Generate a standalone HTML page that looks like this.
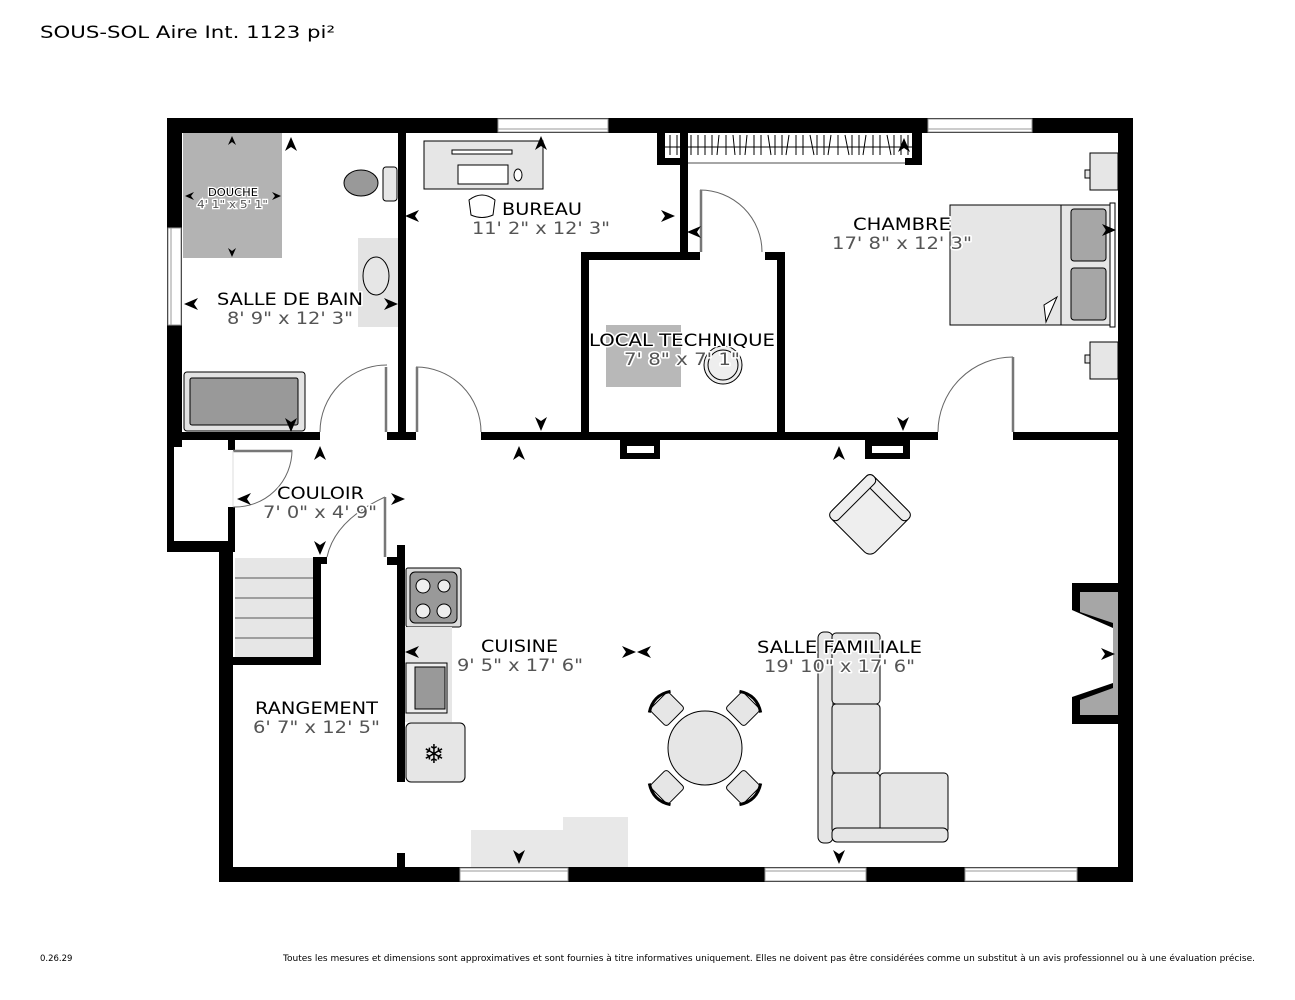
<!DOCTYPE html>
<html><head><meta charset="utf-8"><style>
html,body{margin:0;padding:0;background:#fff;}
svg{display:block;}
text{font-family:"DejaVu Sans","Liberation Sans",sans-serif;}
</style></head><body>
<svg width="1295" height="1000" viewBox="0 0 1295 1000" xmlns="http://www.w3.org/2000/svg">
<defs>
<polygon id="ar" points="0,-8 6,6 0,2 -6,6" fill="#000"/>
<polygon id="ars" points="0,-5 4,4 0,1 -4,4" fill="#000"/>
</defs>
<rect width="1295" height="1000" fill="#fff"/>
<text x="40" y="38" font-size="17" textLength="295" lengthAdjust="spacingAndGlyphs">SOUS-SOL Aire Int. 1123 pi²</text>

<rect x="183" y="133" width="99" height="125" fill="#b3b3b3"/>
<ellipse cx="361" cy="183" rx="17" ry="13" fill="#999" stroke="#000" stroke-width="1"/>
<rect x="383" y="167" width="14" height="34" rx="3" fill="#e6e6e6" stroke="#000" stroke-width="1"/>
<rect x="358" y="238" width="40" height="89" fill="#e3e3e3"/>
<ellipse cx="376" cy="276" rx="13" ry="19" fill="#e6e6e6" stroke="#000" stroke-width="1"/>
<rect x="184" y="372" width="121" height="59" rx="3" fill="#e3e3e3" stroke="#000" stroke-width="1"/>
<rect x="190" y="378" width="108" height="47" rx="2" fill="#999" stroke="#000" stroke-width="1"/>
<rect x="424" y="141" width="119" height="48" fill="#e6e6e6" stroke="#000" stroke-width="1"/>
<rect x="452" y="150" width="60" height="4" fill="#fff" stroke="#000" stroke-width="1"/>
<rect x="458" y="165" width="50" height="19" fill="#fff" stroke="#000" stroke-width="1"/>
<ellipse cx="518" cy="175" rx="4" ry="6" fill="#fff" stroke="#000" stroke-width="1"/>
<path d="M469 200 Q482 190 495 200 L493 215 Q482 220 471 215 Z" fill="#fff" stroke="#000" stroke-width="1"/>

<rect x="657" y="118" width="265" height="47" fill="#000"/>
<rect x="665" y="133" width="247" height="25" fill="#fff"/>
<rect x="688" y="158" width="217" height="7" fill="#fff"/>
<line x1="688" y1="163" x2="905" y2="163" stroke="#888" stroke-width="1.5"/>
<line x1="665" y1="147" x2="912" y2="147" stroke="#000" stroke-width="1"/>
<g stroke="#000" stroke-width="1">
<path d="M670 135v20M677 135v20M684 135v20M691 135v20M698 135v20M705 135v20M712 135v20M719 135l-2 20M726 135v20M733 135l2 20M740 135v20M747 135l-2 20M754 135v20M761 135v20M768 135l3 20M775 135v20M782 135v20M789 135l-3 20M796 135v20M803 135v20M810 135l4 20M817 135v20M824 135v20M831 135l-3 20M838 135v20M845 135l4 20M852 135v20M859 135v20M866 135l-3 20M873 135v20M880 135v20M887 135l4 20M894 135v20M901 135v20M908 135v20"/>
</g>

<rect x="950" y="205" width="160" height="120" fill="#e6e6e6" stroke="#000" stroke-width="1"/>
<line x1="1061" y1="205" x2="1061" y2="325" stroke="#000" stroke-width="1"/>
<rect x="1071" y="209" width="35" height="52" rx="3" fill="#a6a6a6" stroke="#000" stroke-width="1"/>
<rect x="1071" y="268" width="35" height="52" rx="3" fill="#a6a6a6" stroke="#000" stroke-width="1"/>
<rect x="1110" y="203" width="5" height="124" fill="#fff" stroke="#000" stroke-width="1"/>
<path d="M1046 322 L1044 305 L1057 297 Z" fill="#fff" stroke="#000" stroke-width="1"/>
<rect x="1090" y="153" width="28" height="37" fill="#e6e6e6" stroke="#000" stroke-width="1"/>
<rect x="1085" y="170" width="5" height="8" fill="#e6e6e6" stroke="#000" stroke-width="1"/>
<rect x="1090" y="342" width="28" height="37" fill="#e6e6e6" stroke="#000" stroke-width="1"/>
<rect x="1085" y="355" width="5" height="8" fill="#e6e6e6" stroke="#000" stroke-width="1"/>

<rect x="606" y="325" width="75" height="62" fill="#b8b8b8"/>
<circle cx="723" cy="365" r="19" fill="#eee" stroke="#000" stroke-width="1"/>
<circle cx="723" cy="365" r="15" fill="none" stroke="#000" stroke-width="1"/>

<rect x="406" y="568" width="55" height="59" rx="2" fill="#ddd" stroke="#000" stroke-width="1"/>
<rect x="410" y="572" width="47" height="51" rx="5" fill="#999" stroke="#000" stroke-width="1"/>
<circle cx="423" cy="586" r="7" fill="#eee" stroke="#000"/><circle cx="444" cy="586" r="6" fill="#eee" stroke="#000"/>
<circle cx="423" cy="611" r="7" fill="#eee" stroke="#000"/><circle cx="444" cy="611" r="7" fill="#eee" stroke="#000"/>
<rect x="405" y="627" width="47" height="95" fill="#e6e6e6"/>
<rect x="406" y="663" width="41" height="50" fill="#eee" stroke="#000" stroke-width="1"/>
<rect x="415" y="667" width="30" height="42" fill="#999" stroke="#000" stroke-width="1"/>
<rect x="406" y="723" width="59" height="59" rx="5" fill="#e6e6e6" stroke="#000" stroke-width="1"/>
<text x="434" y="763" font-size="26" text-anchor="middle" fill="#000">❄</text>
<rect x="471" y="830" width="92" height="38" fill="#e8e8e8"/>
<rect x="563" y="817" width="65" height="51" fill="#e8e8e8"/>

<rect x="235" y="558" width="78" height="100" fill="#e6e6e6"/>
<g stroke="#555" stroke-width="1"><path d="M235 578h78M235 598h78M235 618h78M235 638h78"/></g>

<g transform="translate(870,515) rotate(45)">
<rect x="-30" y="-30" width="60" height="60" rx="8" fill="#eee" stroke="#000" stroke-width="1"/>
<rect x="-30" y="-30" width="60" height="11" rx="5" fill="#eee" stroke="#000" stroke-width="1"/>
<rect x="-30" y="-30" width="11" height="60" rx="5" fill="#eee" stroke="#000" stroke-width="1"/>
</g>

<g fill="#e6e6e6" stroke="#000" stroke-width="1">
<g transform="translate(667,709) rotate(-45)"><rect x="-13" y="-12" width="26" height="24" rx="3"/><path d="M-15 -10 Q0 -20 15 -10" fill="none" stroke-width="3"/></g>
<g transform="translate(743,709) rotate(45)"><rect x="-13" y="-12" width="26" height="24" rx="3"/><path d="M-15 -10 Q0 -20 15 -10" fill="none" stroke-width="3"/></g>
<g transform="translate(667,787) rotate(-135)"><rect x="-13" y="-12" width="26" height="24" rx="3"/><path d="M-15 -10 Q0 -20 15 -10" fill="none" stroke-width="3"/></g>
<g transform="translate(743,787) rotate(135)"><rect x="-13" y="-12" width="26" height="24" rx="3"/><path d="M-15 -10 Q0 -20 15 -10" fill="none" stroke-width="3"/></g>
<circle cx="705" cy="748" r="37"/>
</g>

<g fill="#e6e6e6" stroke="#000" stroke-width="1">
<rect x="818" y="632" width="15" height="211" rx="6"/>
<rect x="832" y="633" width="48" height="71" rx="4"/>
<rect x="832" y="704" width="48" height="69" rx="4"/>
<rect x="832" y="773" width="48" height="60" rx="4"/>
<rect x="880" y="773" width="68" height="60" rx="4"/>
<rect x="832" y="828" width="116" height="14" rx="5"/>
</g>

<!-- fireplace -->
<path d="M1072 583 H1120 V724 H1072 V697 L1113 683 V628 L1072 610 Z" fill="#000"/>
<path d="M1080 592 H1120 V715 H1080 V700 L1113 688 V623 L1080 612 Z" fill="#a6a6a6"/>

<g fill="#000">
<rect x="167" y="118" width="966" height="15"/>
<rect x="167" y="118" width="15" height="434"/>
<rect x="1118" y="118" width="15" height="764"/>
<rect x="219" y="867" width="914" height="15"/>
<rect x="219" y="540" width="14" height="342"/>
<rect x="167" y="541" width="68" height="11"/>
<rect x="228" y="507" width="7" height="45"/>
<rect x="228" y="440" width="7" height="10"/>
<rect x="398" y="133" width="8" height="307"/>
<rect x="182" y="432" width="138" height="8"/>
<rect x="387" y="432" width="29" height="8"/>
<rect x="481" y="432" width="457" height="8"/>
<rect x="1013" y="432" width="105" height="8"/>
<rect x="680" y="133" width="8" height="119"/>
<rect x="581" y="252" width="8" height="188"/>
<rect x="777" y="252" width="8" height="188"/>
<rect x="581" y="252" width="119" height="8"/>
<rect x="765" y="252" width="20" height="8"/>
<rect x="620" y="440" width="40" height="19"/>
<rect x="865" y="440" width="45" height="19"/>
<rect x="313" y="557" width="8" height="108"/>
<rect x="313" y="557" width="14" height="7"/>
<rect x="220" y="657" width="101" height="8"/>
<rect x="397" y="545" width="8" height="237"/>
<rect x="387" y="557" width="18" height="8"/>
<rect x="397" y="853" width="8" height="15"/>
</g>
<rect x="627" y="446" width="27" height="7" fill="#fff"/>
<rect x="872" y="446" width="31" height="7" fill="#fff"/>
<rect x="174" y="447" width="54" height="94" fill="#fff"/>

<g fill="#fff" stroke="#999" stroke-width="1">
<rect x="498" y="119" width="110" height="13"/>
<rect x="928" y="119" width="104" height="13"/>
<rect x="168" y="228" width="13" height="97"/>
<rect x="460" y="868" width="108" height="13"/>
<rect x="765" y="868" width="101" height="13"/>
<rect x="965" y="868" width="112" height="13"/>
</g>
<g stroke="#999" stroke-width="1"><path d="M498 129h110M928 129h104M171 228v97M460 871h108M765 871h101M965 871h112"/></g>

<g fill="none" stroke="#666" stroke-width="1">
<path d="M320 432 A67 67 0 0 1 387 365"/>
<path d="M481 432 A65 65 0 0 0 416 367"/>
<path d="M700 190 A62 62 0 0 1 762 252"/>
<path d="M938 432 A75 75 0 0 1 1013 357"/>
<path d="M233 507 A57 57 0 0 0 292 450"/>
<path d="M327 557 Q335 520 385 497"/>
</g>
<g stroke="#777" stroke-width="2.5">
<path d="M386 367v65M417 367v65M701 190v62M1013 357v75M233 451h59M385 497v60"/>
</g>
<line x1="233" y1="451" x2="233" y2="507" stroke="#ddd" stroke-width="1"/>

<use href="#ars" x="232" y="141"/>
<use href="#ars" transform="translate(232,252) rotate(180)"/>
<use href="#ars" transform="translate(190,196) rotate(-90)"/>
<use href="#ars" transform="translate(276,196) rotate(90)"/>
<use href="#ar" x="291" y="145"/>
<use href="#ar" transform="translate(192,304) rotate(-90)"/>
<use href="#ar" transform="translate(390,304) rotate(90)"/>
<use href="#ar" transform="translate(291,424) rotate(180)"/>
<use href="#ar" x="541" y="144"/>
<use href="#ar" transform="translate(413,216) rotate(-90)"/>
<use href="#ar" transform="translate(667,216) rotate(90)"/>
<use href="#ar" transform="translate(541,423) rotate(180)"/>
<use href="#ar" x="904" y="146"/>
<use href="#ar" transform="translate(695,232) rotate(-90)"/>
<use href="#ar" transform="translate(1108,230) rotate(90)"/>
<use href="#ar" transform="translate(903,423) rotate(180)"/>
<use href="#ar" x="320" y="454"/>
<use href="#ar" transform="translate(245,499) rotate(-90)"/>
<use href="#ar" transform="translate(397,499) rotate(90)"/>
<use href="#ar" transform="translate(320,547) rotate(180)"/>
<use href="#ar" x="519" y="454"/>
<use href="#ar" transform="translate(413,652) rotate(-90)"/>
<use href="#ar" transform="translate(628,652) rotate(90)"/>
<use href="#ar" transform="translate(519,856) rotate(180)"/>
<use href="#ar" x="839" y="454"/>
<use href="#ar" transform="translate(645,652) rotate(-90)"/>
<use href="#ar" transform="translate(1107,654) rotate(90)"/>
<use href="#ar" transform="translate(839,856) rotate(180)"/>

<g font-size="17" fill="#000" stroke="#fff" stroke-width="3" paint-order="stroke" stroke-linejoin="round">
<text x="217" y="305" textLength="146" lengthAdjust="spacingAndGlyphs">SALLE DE BAIN</text>
<text x="502" y="215" textLength="80" lengthAdjust="spacingAndGlyphs">BUREAU</text>
<text x="853" y="230" textLength="98" lengthAdjust="spacingAndGlyphs">CHAMBRE</text>
<text x="589" y="346" textLength="186" lengthAdjust="spacingAndGlyphs">LOCAL TECHNIQUE</text>
<text x="277" y="499" textLength="87" lengthAdjust="spacingAndGlyphs">COULOIR</text>
<text x="481" y="652" textLength="77" lengthAdjust="spacingAndGlyphs">CUISINE</text>
<text x="757" y="653" textLength="165" lengthAdjust="spacingAndGlyphs">SALLE FAMILIALE</text>
<text x="255" y="714" textLength="123" lengthAdjust="spacingAndGlyphs">RANGEMENT</text>
</g>
<g font-size="17" fill="#555" stroke="#fff" stroke-width="3" paint-order="stroke" stroke-linejoin="round">
<text x="227" y="324" textLength="126" lengthAdjust="spacingAndGlyphs">8' 9" x 12' 3"</text>
<text x="472" y="234" textLength="138" lengthAdjust="spacingAndGlyphs">11' 2" x 12' 3"</text>
<text x="832" y="249" textLength="140" lengthAdjust="spacingAndGlyphs">17' 8" x 12' 3"</text>
<text x="624" y="365" textLength="116" lengthAdjust="spacingAndGlyphs">7' 8" x 7' 1"</text>
<text x="263" y="518" textLength="114" lengthAdjust="spacingAndGlyphs">7' 0" x 4' 9"</text>
<text x="457" y="671" textLength="126" lengthAdjust="spacingAndGlyphs">9' 5" x 17' 6"</text>
<text x="764" y="672" textLength="151" lengthAdjust="spacingAndGlyphs">19' 10" x 17' 6"</text>
<text x="253" y="733" textLength="127" lengthAdjust="spacingAndGlyphs">6' 7" x 12' 5"</text>
</g>
<g font-size="11" fill="#000" stroke="#fff" stroke-width="2.5" paint-order="stroke">
<text x="208" y="196" textLength="50" lengthAdjust="spacingAndGlyphs">DOUCHE</text>
<text x="197" y="208" textLength="71" lengthAdjust="spacingAndGlyphs" fill="#555">4' 1" x 5' 1"</text>
</g>

<text x="40" y="961" font-size="8.5" fill="#000">0.26.29</text>
<text x="283" y="961" font-size="8.5" fill="#000" textLength="972" lengthAdjust="spacingAndGlyphs">Toutes les mesures et dimensions sont approximatives et sont fournies à titre informatives uniquement. Elles ne doivent pas être considérées comme un substitut à un avis professionnel ou à une évaluation précise.</text>
</svg>
</body></html>
